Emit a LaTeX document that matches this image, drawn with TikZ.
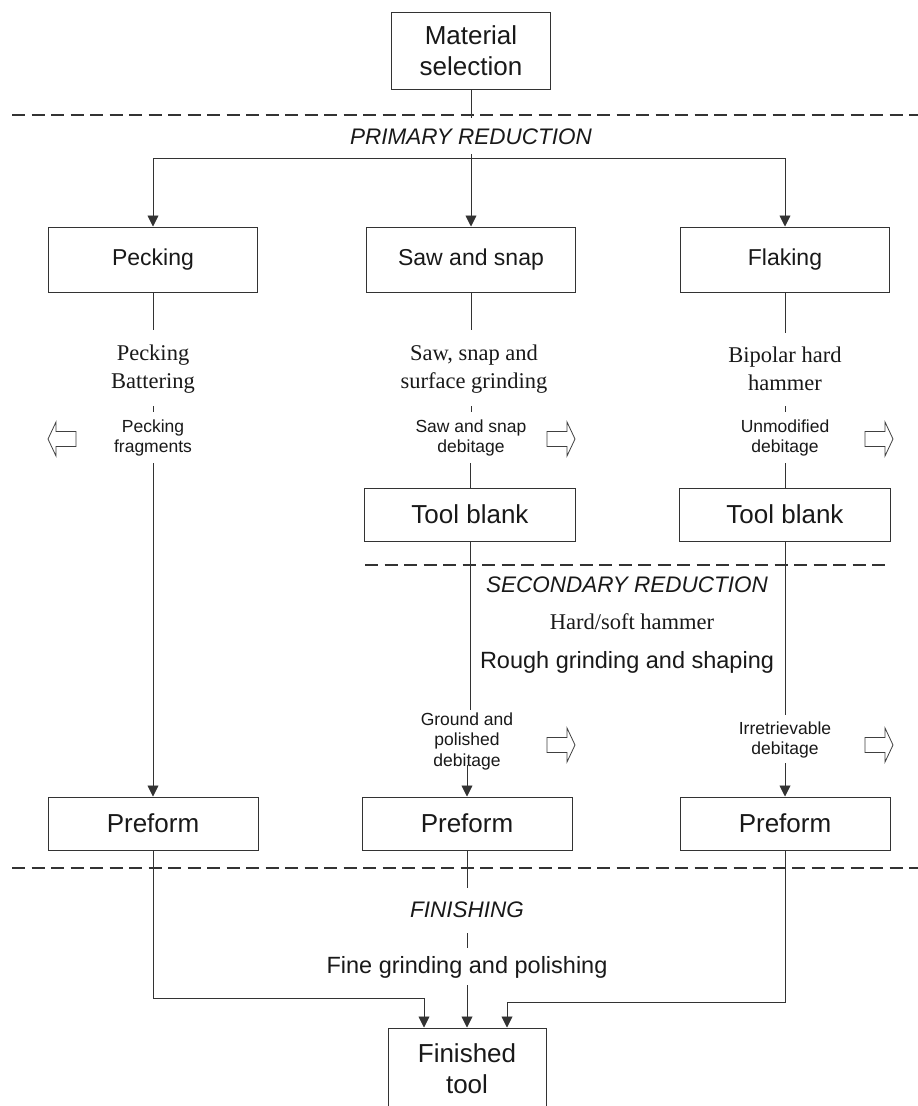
\documentclass[tikz,border=0pt]{standalone}
\usepackage{fontspec}
\setmainfont{Liberation Serif}
\setsansfont{Liberation Sans}
\usetikzlibrary{arrows.meta,calc}
\begin{document}
\begin{tikzpicture}[x=1pt,y=-1pt,
  box/.style={draw=black!80, line width=1pt, text=black!90, inner sep=0pt, align=center},
  bigbox/.style={box, font=\sffamily\fontsize{26}{31}\selectfont},
  midbox/.style={box, font=\sffamily\fontsize{23}{28}\selectfont},
  serif/.style={text=black!90, align=center, inner sep=0pt, font=\rmfamily\fontsize{22.5}{28}\selectfont},
  small/.style={text=black!90, align=center, inner sep=0pt, font=\sffamily\fontsize{17.5}{20.5}\selectfont},
  phase/.style={text=black!90, inner sep=0pt, font=\sffamily\itshape\fontsize{22.5}{27}\selectfont},
  plain/.style={text=black!90, inner sep=0pt, font=\sffamily\fontsize{23.5}{28}\selectfont},
  link/.style={draw=black!80, line width=0.9pt},
  arr/.style={link, -{Triangle[length=11pt,width=11pt]}},
  sep/.style={draw=black!80, line width=1.5pt, dash pattern=on 13pt off 6.5pt},
  hollow/.style={draw=black!75, line width=0.8pt, fill=white},
  hollowright/.pic={\draw[hollow] (0,-7.5) -- (20,-7.5) -- (20,-17) -- (28,0) -- (20,17) -- (20,7.5) -- (0,7.5) -- cycle;},
  hollowleft/.pic={\draw[hollow] (28,-7.5) -- (8,-7.5) -- (8,-17) -- (0,0) -- (8,17) -- (8,7.5) -- (28,7.5) -- cycle;},
]
\fill[white] (0,0) rectangle (918,1106);
\useasboundingbox (0,0) rectangle (918,1106);

% separators
\draw[sep] (12,115) -- (918,115);
\draw[sep] (365,565) -- (890,565);
\draw[sep] (12,868) -- (918,868);

% top
\node[bigbox, minimum width=159pt, minimum height=77pt] (mat) at (471,50.5) {Material\\selection};
\node[phase] (prim) at (471,137) {PRIMARY REDUCTION};
\coordinate (pa) at (471,118);
\coordinate (pb) at (471,154);
\coordinate (br) at (471,158);
\draw[link] (mat) -- (pa);
\draw[link] (pb) -- (br);

% row 1 boxes
\node[midbox, minimum width=209pt, minimum height=65pt] (peck) at (153,259.5) {Pecking};
\node[midbox, minimum width=209pt, minimum height=65pt] (saw) at (471,259.5) {Saw and snap};
\node[midbox, minimum width=209pt, minimum height=65pt] (flak) at (785,259.5) {Flaking};
\draw[arr] (br) -| (peck);
\draw[arr] (br) -| (flak);
\draw[arr] (br) -- (saw);

% row 2 texts
\coordinate (La) at (153,330);
\coordinate (Ma) at (471,330);
\coordinate (Ra) at (785,333);
\draw[link] (peck) -- (La);
\draw[link] (saw) -- (Ma);
\draw[link] (flak) -- (Ra);
\node[serif] (sL) at (153,369) {Pecking\\Battering};
\node[serif] (sM) at (474,369) {Saw, snap and\\surface grinding};
\node[serif] (sR) at (785,369) {Bipolar hard\\hammer};
\coordinate (Lt1) at (153,406); \coordinate (Lt2) at (153,412);
\coordinate (Mt1) at (471,406); \coordinate (Mt2) at (471,412);
\coordinate (Rt1) at (785,406); \coordinate (Rt2) at (785,412);
\draw[link] (Lt1) -- (Lt2);
\draw[link] (Mt1) -- (Mt2);
\draw[link] (Rt1) -- (Rt2);
\node[small] (dL) at (153,438) {Pecking\\fragments};
\node[small] (dM) at (471,438) {Saw and snap\\debitage};
\node[small] (dR) at (785,438) {Unmodified\\debitage};
\pic at (48,439) {hollowleft};
\pic at (547,439) {hollowright};
\pic at (865,439) {hollowright};

% tool blanks
\node[bigbox, minimum width=211pt, minimum height=53pt] (tbM) at (470,514.5) {Tool blank};
\node[bigbox, minimum width=211pt, minimum height=53pt] (tbR) at (785,514.5) {Tool blank};
\coordinate (Lb) at (153,463);
\coordinate (Mb) at (470,463);
\coordinate (Rb) at (785,463);
\draw[link] (Mb) -- (tbM);
\draw[link] (Rb) -- (tbR);

% secondary reduction
\node[phase] (sec) at (627,585) {SECONDARY REDUCTION};
\node[serif] (hh) at (632,622) {Hard/soft hammer};
\node[plain] (rg) at (627,662) {Rough grinding and shaping};
\coordinate (Mc) at (470,710);
\coordinate (Rc) at (785,715);
\draw[link] (tbM) -- (Mc);
\draw[link] (tbR) -- (Rc);
\node[small] (gM) at (467,741) {Ground and\\polished\\debitage};
\node[small] (gR) at (785,740) {Irretrievable\\debitage};
\pic at (547,745) {hollowright};
\pic at (865,745) {hollowright};

% preforms
\node[bigbox, minimum width=210pt, minimum height=53pt] (preL) at (153,823.5) {Preform};
\node[bigbox, minimum width=210pt, minimum height=53pt] (preM) at (467,823.5) {Preform};
\node[bigbox, minimum width=210pt, minimum height=53pt] (preR) at (785,823.5) {Preform};
\draw[arr] (Lb) -- (preL);
\coordinate (Md) at (467,765);
\coordinate (Rd) at (785,763);
\draw[arr] (Md) -- (preM);
\draw[arr] (Rd) -- (preR);

% finishing
\node[bigbox, minimum width=158pt, minimum height=82pt] (fin) at (467,1069) {Finished\\tool};
\coordinate (Me) at (467,888);
\draw[link] (preM) -- (Me);
\node[phase] (fin1) at (467,910) {FINISHING};
\coordinate (Mf1) at (467,933); \coordinate (Mf2) at (467,948);
\draw[link] (Mf1) -- (Mf2);
\node[plain] (fg) at (467,967) {Fine grinding and polishing};
\coordinate (Mg) at (467,985);
\draw[arr] (Mg) -- (fin);
\coordinate (jL) at (424,998);
\coordinate (jR) at (507,1002);
\draw[arr] (preL) |- (jL) -- (jL |- fin.north);
\draw[arr] (preR) |- (jR) -- (jR |- fin.north);
\end{tikzpicture}
\end{document}
